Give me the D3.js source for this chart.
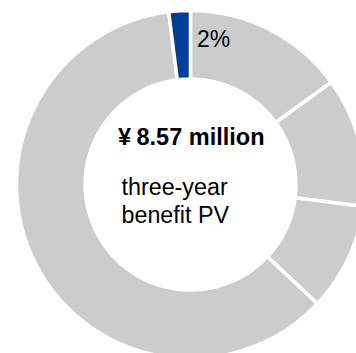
<!DOCTYPE html>
<html>
<head>
<meta charset="utf-8">
<script src="https://cdn.jsdelivr.net/npm/d3@7"></script>
<style>
  html, body { margin: 0; padding: 0; background: #fff; }
  svg { display: block; font-family: Arial, "Liberation Sans", sans-serif; }
</style>
</head>
<body>
<svg id="chart" width="356" height="353"></svg>
<script>
// Benefit components, clockwise from 12 o'clock
const segments = ["b1", "b2", "b3", "b4", "highlight"];
const shares = [15, 12, 10, 61, 2];
const segmentColors = ["#cccccc", "#cccccc", "#cccccc", "#cccccc", "#003f98"];
const highlightLabel = "2%";
const totalCurrency = "¥";
const totalValue = "8.57 million";
const captionLines = ["three-year", "benefit PV"];

const svg = d3.select("#chart");
const cx = 190.5, cy = 184.5;
const outerR = 174, innerR = 105.5;

const pie = d3.pie().sort(null).value(d => d.v).startAngle(0).endAngle(2 * Math.PI);
const arc = d3.arc().innerRadius(innerR).outerRadius(outerR);
const data = segments.map((k, i) => ({ k, v: shares[i], c: segmentColors[i] }));
const arcs = pie(data);

const g = svg.append("g").attr("transform", `translate(${cx},${cy})`);
g.selectAll("path.slice")
  .data(arcs)
  .join("path")
  .attr("class", "slice")
  .attr("d", arc)
  .attr("fill", d => d.data.c)
  .attr("stroke", "#ffffff")
  .attr("stroke-width", 3.5)
  .attr("stroke-linejoin", "miter");

// Percentage label just clockwise of the highlighted slice
const hl = arcs[arcs.length - 1];
const labelAngle = hl.endAngle + 0.047;
const labelR = outerR - 36.5;
g.append("text")
  .attr("x", Math.sin(labelAngle) * labelR)
  .attr("y", -Math.cos(labelAngle) * labelR)
  .attr("text-anchor", "start")
  .attr("font-size", 23)
  .attr("fill", "#000")
  .text(highlightLabel);

// Centre total
const title = svg.append("text")
  .attr("y", 145)
  .attr("font-size", 23.5)
  .attr("font-weight", "bold")
  .attr("fill", "#000");
title.append("tspan").attr("x", 118).text(totalCurrency);
title.append("tspan").attr("x", 136.5).text(totalValue);

svg.append("text")
  .attr("font-size", 23.3)
  .attr("fill", "#000")
  .selectAll("tspan")
  .data(captionLines)
  .join("tspan")
  .attr("x", 121.5)
  .attr("y", (d, i) => 195 + i * 28.3)
  .text(d => d);
</script>
</body>
</html>
